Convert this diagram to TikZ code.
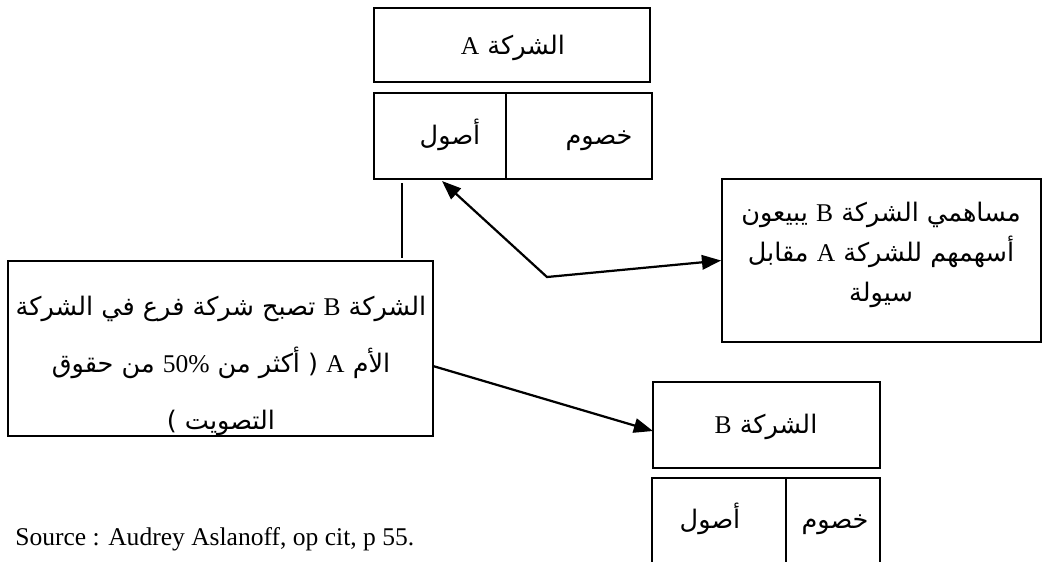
\documentclass[tikz,border=0pt]{standalone}
\usepackage{fontspec}
\setmainfont{Liberation Serif}
\newfontfamily\arabicfont[Script=Arabic]{DejaVu Sans}
\TeXXeTstate=1
\usetikzlibrary{arrows.meta}
\newlength\pxu
\setlength\pxu{0.47pt}
\newcommand{\ar}[1]{{\arabicfont\beginR #1\endR}}
\newcommand{\la}[1]{{\rmfamily #1}}
\tikzset{
  box/.style={draw, line width=0.85pt, inner sep=0pt},
  lbl/.style={inner sep=0pt, font=\fontsize{12}{14}\selectfont},
  conn/.style={line width=1.05pt},
  tip/.style={},
  arr/.style={conn, -{Triangle[length=9pt,width=6.8pt]}},
  darr/.style={conn, {Triangle[length=9pt,width=6.8pt]}-{Triangle[length=9pt,width=6.8pt]}}
}
\begin{document}
\begin{tikzpicture}[x=0.47pt, y=-0.47pt]
\useasboundingbox (0,0) rectangle (1045,561);
% company A
\node[box, minimum width=276\pxu, minimum height=74\pxu] (A) at (512,45) {};
\node[lbl, anchor=base] (At) at (513,54) {\ar{الشركة \la{A}}};
\node[box, minimum width=278\pxu, minimum height=86\pxu] (A2) at (513,136) {};
\draw[line width=0.85pt] (506,93) -- (506,179);
\node[lbl, anchor=base] (Aas) at (450,144) {\ar{أصول}};
\node[lbl, anchor=base] (Ali) at (599,144) {\ar{خصوم}};
% right box
\node[box, minimum width=319\pxu, minimum height=163\pxu] (rb) at (881.5,260.5) {};
\node[lbl, align=center, font=\fontsize{12}{18.8}\selectfont] (rbt) at (881,255)
  {\ar{مساهمي الشركة \la{B} يبيعون}\\ \ar{أسهمهم للشركة \la{A} مقابل}\\ \ar{سيولة}};
% left box
\node[box, minimum width=425\pxu, minimum height=175\pxu] (lb) at (220.5,348.5) {};
\node[lbl, align=center, font=\fontsize{12}{26.8}\selectfont] (lbt) at (221,366)
  {\ar{الشركة \la{B} تصبح شركة فرع في الشركة}\\ \ar{الأم \la{A} ( أكثر من \la{50\%} من حقوق}\\ \ar{التصويت )}};
% company B
\node[box, minimum width=227\pxu, minimum height=86\pxu] (B) at (766.5,425) {};
\node[lbl, anchor=base] (Bt) at (766,433) {\ar{الشركة \la{B}}};
\draw[line width=0.85pt] (652,565) -- (652,478) -- (880,478) -- (880,565);
\draw[line width=0.85pt] (786,478) -- (786,565);
\node[lbl, anchor=base] (Bas) at (710,528) {\ar{أصول}};
\node[lbl, anchor=base] (Bli) at (835,528) {\ar{خصوم}};
% source
\node[lbl, anchor=base west] (src) at (15,545) {Source : Audrey Aslanoff, op cit, p 55.};
% connectors
\coordinate (v1) at (402,183);
\coordinate (v2) at (402,258);
\draw[line width=0.85pt] (v1) -- (v2);
\coordinate (t1) at (442,181);
\coordinate (bend) at (547,277);
\draw[darr] (t1) -- (bend) -- (rb.west);
\coordinate (s2) at (433,366);
\coordinate (e2) at (653,431);
\draw[arr] (s2) -- (e2);
\end{tikzpicture}
\end{document}
